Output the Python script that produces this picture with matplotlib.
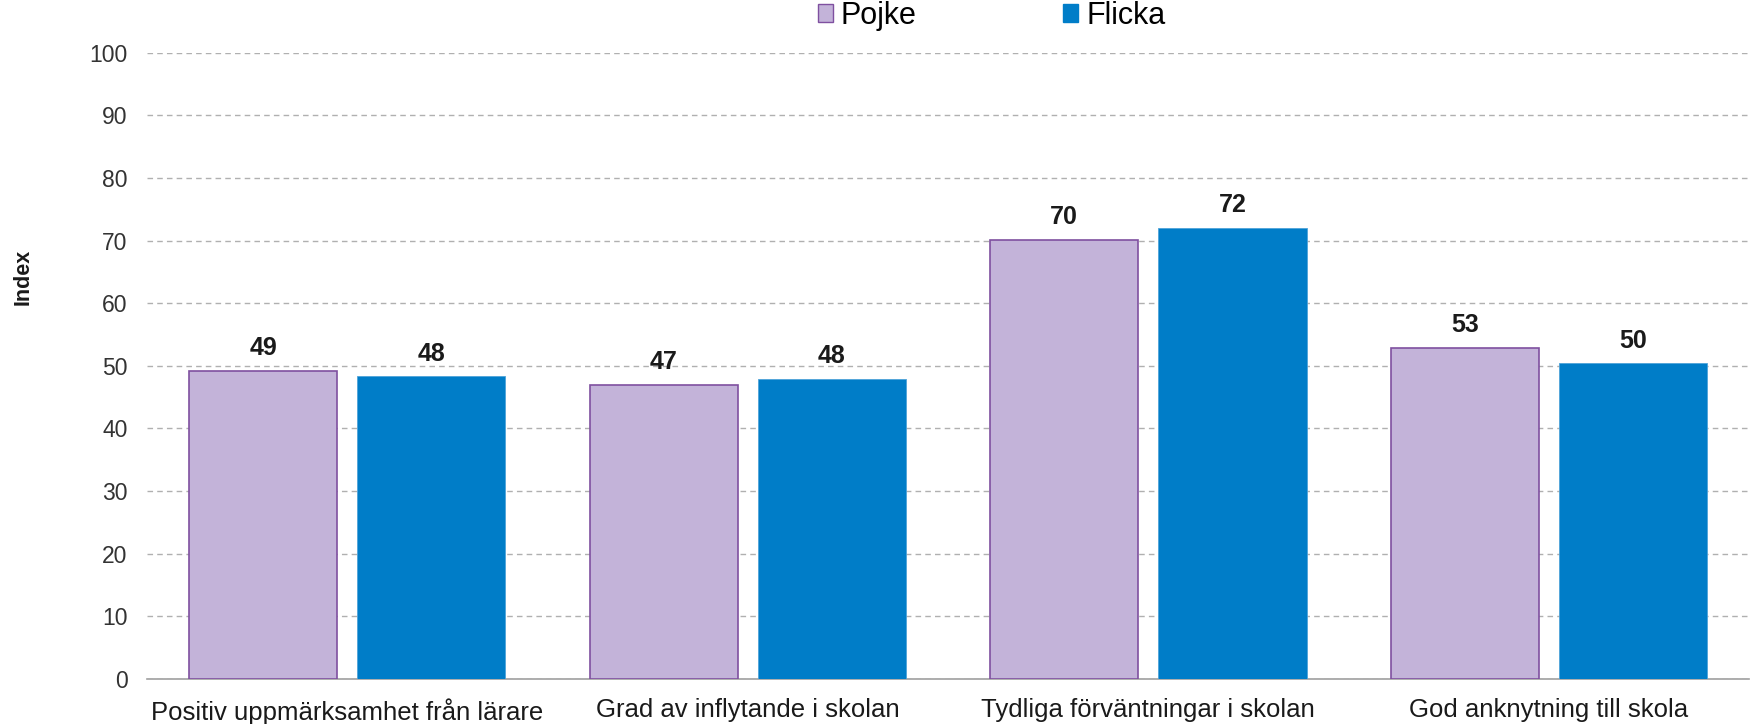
import numpy as np
import matplotlib.pyplot as plt
from matplotlib.patches import Patch

plt.rcParams["font.family"] = ["Liberation Sans", "DejaVu Sans"]

categories = [
    "Positiv uppmärksamhet från lärare",
    "Grad av inflytande i skolan",
    "Tydliga förväntningar i skolan",
    "God anknytning till skola",
]
pojke = [49.2, 47.0, 70.1, 52.9]
flicka = [48.3, 47.9, 72.0, 50.4]

c_pojke = "#C3B3D9"
c_pojke_edge = "#7F50A0"
c_flicka = "#007DC8"

fig = plt.figure(figsize=(17.58, 7.24), dpi=100)
ax = fig.add_axes([0.0836, 0.0622, 0.9114, 0.865])

x = np.arange(len(categories))
w = 0.37
off = 0.21
b1 = ax.bar(x - off, pojke, w, color=c_pojke, edgecolor=c_pojke_edge, linewidth=1.2, zorder=3)
b2 = ax.bar(x + off, flicka, w, color=c_flicka, edgecolor="#4FA3D9", linewidth=0.6, zorder=3)

for bars, vals in [(b1, pojke), (b2, flicka)]:
    for r, v in zip(bars, vals):
        ax.text(r.get_x() + r.get_width() / 2, v + 1.7, f"{round(v):d}",
                ha="center", va="bottom", fontsize=18, fontweight="bold", color="#1a1a1a")

ax.set_xlim(-0.5, len(categories) - 0.5)
ax.set_ylim(0, 100)
ax.set_yticks(range(0, 101, 10))
ax.yaxis.grid(True, linestyle=(0, (4, 3)), color="#b0b0b0", linewidth=1, zorder=0)
ax.set_axisbelow(True)
ax.set_xticks(x)
ax.set_xticklabels(categories, fontsize=18.5, color="#1a1a1a")
ax.tick_params(axis="x", length=0, pad=14)
ax.tick_params(axis="y", length=0, pad=14, labelsize=16.5, labelcolor="#333333")

for s in ["top", "right", "left"]:
    ax.spines[s].set_visible(False)
ax.spines["bottom"].set_color("#a0a0a0")
ax.spines["bottom"].set_linewidth(1.2)

ax.set_ylabel("Index", fontsize=15.5, fontweight="bold", color="#1a1a1a")
ax.yaxis.set_label_coords(-0.071, 0.642)

handles = [
    Patch(facecolor=c_pojke, edgecolor=c_pojke_edge, label="Pojke"),
    Patch(facecolor=c_flicka, edgecolor=c_flicka, label="Flicka"),
]
fig.legend(handles=handles, loc="center", bbox_to_anchor=(0.564, 0.978), ncol=2,
           frameon=False, fontsize=22, handlelength=0.5, handleheight=0.5,
           handletextpad=0.25, columnspacing=4.8)

fig.savefig("out.png", dpi=100)
